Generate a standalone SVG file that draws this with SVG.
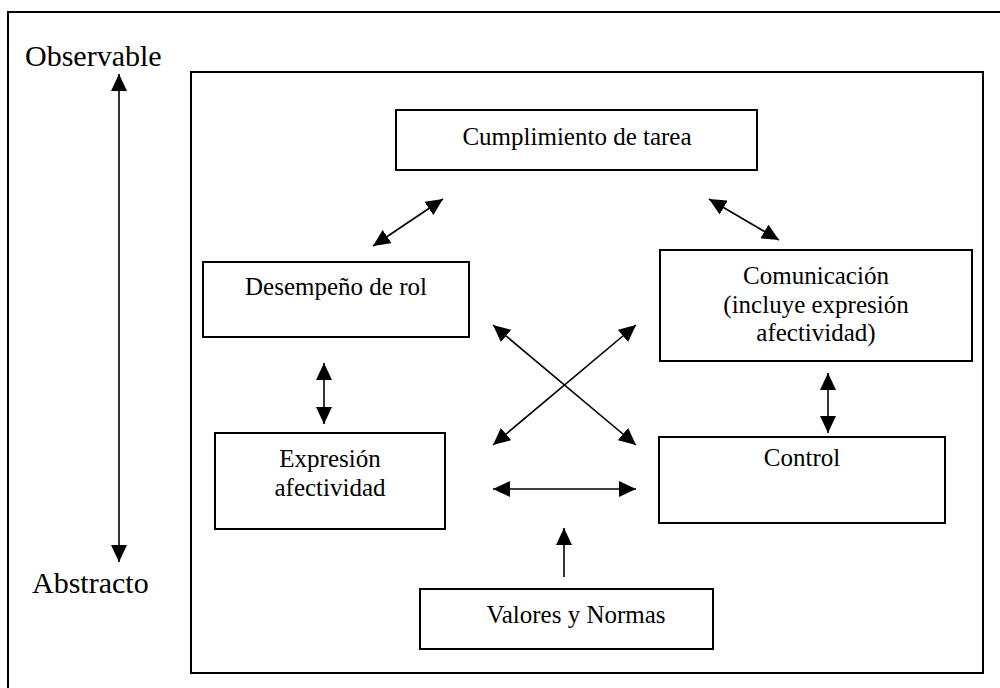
<svg xmlns="http://www.w3.org/2000/svg" width="1000" height="688" viewBox="0 0 1000 688">
<style>
.box{fill:#fff;stroke:#000;stroke-width:2}
.frame{fill:none;stroke:#000;stroke-width:2}
.lbl{font-size:25px;fill:#000;text-anchor:middle}
.side{font-size:30px;fill:#000}
.arr{stroke:#000;stroke-width:1.6;fill:none;marker-start:url(#ah);marker-end:url(#ah)}
.arr1{stroke:#000;stroke-width:1.6;fill:none;marker-end:url(#ah)}
</style>
<defs>
<marker id="ah" markerUnits="userSpaceOnUse" markerWidth="18" markerHeight="16" refX="17" refY="8" orient="auto-start-reverse" viewBox="0 0 18 16">
<path d="M0,0 L17,8 L0,16 z" fill="#000"/>
</marker>
</defs>
<rect class="frame" x="8" y="12" width="1010" height="700"/>
<rect class="frame" x="191" y="72" width="792" height="601"/>
<g font-family="'Liberation Serif', 'DejaVu Serif', serif">
<text class="side" x="25" y="66">Observable</text>
<text class="side" x="32" y="593">Abstracto</text>
<g id="n-cumplimiento">
<rect class="box" x="396" y="110" width="361" height="60"/>
<text class="lbl" x="577" y="145">Cumplimiento de tarea</text>
</g>
<g id="n-desempeno">
<rect class="box" x="203" y="262" width="266" height="75"/>
<text class="lbl" x="336" y="295">Desempeño de rol</text>
</g>
<g id="n-comunicacion">
<rect class="box" x="660" y="250" width="312" height="111"/>
<text class="lbl" x="816" y="284">Comunicación</text>
<text class="lbl" x="816" y="313">(incluye expresión</text>
<text class="lbl" x="816" y="341">afectividad)</text>
</g>
<g id="n-expresion">
<rect class="box" x="215" y="433" width="230" height="96"/>
<text class="lbl" x="330" y="467">Expresión</text>
<text class="lbl" x="330" y="496">afectividad</text>
</g>
<g id="n-control">
<rect class="box" x="659" y="437" width="286" height="86"/>
<text class="lbl" x="802" y="466">Control</text>
</g>
<g id="n-valores">
<rect class="box" x="420" y="589" width="293" height="60"/>
<text class="lbl" x="576" y="623">Valores y Normas</text>
</g>
</g>
<g id="connectors">
<line class="arr" x1="119" y1="74" x2="119" y2="562"/>
<line class="arr" x1="443" y1="199" x2="373" y2="246"/>
<line class="arr" x1="709" y1="199" x2="779" y2="240"/>
<line class="arr" x1="324" y1="363" x2="324" y2="424"/>
<line class="arr" x1="828" y1="373" x2="828" y2="433"/>
<line class="arr" x1="493" y1="325" x2="636" y2="445"/>
<line class="arr" x1="636" y1="325" x2="493" y2="445"/>
<line class="arr" x1="493" y1="489" x2="636" y2="489"/>
<line class="arr1" x1="564" y1="577" x2="564" y2="528"/>
</g>
</svg>
